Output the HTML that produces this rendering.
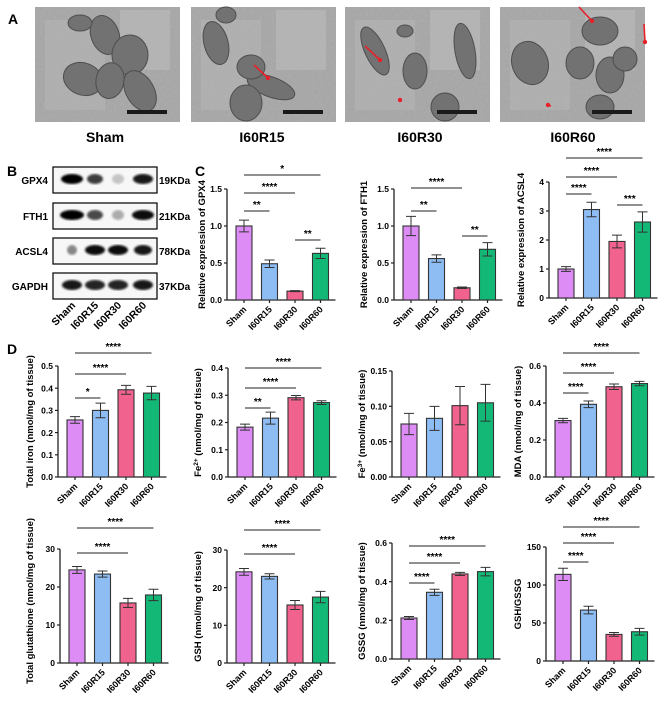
<!DOCTYPE html>
<html><head><meta charset="utf-8">
<style>
html,body{margin:0;padding:0;background:#fff;}
svg{display:block;font-family:"Liberation Sans",Arial,sans-serif;}
</style></head>
<body>
<svg id="fig" width="669" height="705" viewBox="0 0 669 705" xmlns="http://www.w3.org/2000/svg">
<defs>
<filter id="blur2"><feGaussianBlur stdDeviation="1.0"/></filter>
<filter id="noise" x="0" y="0" width="1" height="1"><feTurbulence type="fractalNoise" baseFrequency="0.35" numOctaves="2" seed="3"/><feColorMatrix type="matrix" values="0 0 0 0 0.5  0 0 0 0 0.5  0 0 0 0 0.5  0 0 0 0.35 0"/></filter>
</defs>
<g id="panelA">
<text x="8" y="24" font-size="14" font-weight="bold">A</text>
</g>
<g id="panelB">
<text x="7" y="176" font-size="14" font-weight="bold">B</text>
</g>
<text x="195" y="176" font-size="14" font-weight="bold">C</text>
<text x="7" y="354" font-size="14" font-weight="bold">D</text>
<g id="charts"></g>
</svg>
<script>
// ---- shared categories ----
const categories = ["Sham","I60R15","I60R30","I60R60"];
const colors = ["#dd8cf6","#8dbdf3","#f2628f","#13b877"];

// ---- chart data ----
const gpx4Values = [1.0, 0.49, 0.12, 0.63];
const gpx4Errors = [0.08, 0.05, 0.006, 0.07];
const gpx4Ticks = ["0.0","0.5","1.0","1.5"];
const fth1Values = [1.0, 0.56, 0.165, 0.685];
const fth1Errors = [0.13, 0.05, 0.01, 0.09];
const fth1Ticks = ["0.0","0.5","1.0","1.5"];
const acsl4Values = [1.0, 3.05, 1.95, 2.62];
const acsl4Errors = [0.08, 0.25, 0.22, 0.35];
const acsl4Ticks = ["0","1","2","3","4"];
const ironValues = [0.257, 0.30, 0.393, 0.378];
const ironErrors = [0.015, 0.033, 0.02, 0.03];
const ironTicks = ["0.0","0.1","0.2","0.3","0.4","0.5"];
const fe2Values = [0.183, 0.216, 0.291, 0.273];
const fe2Errors = [0.011, 0.022, 0.008, 0.007];
const fe2Ticks = ["0.0","0.1","0.2","0.3","0.4"];
const fe3Values = [0.075, 0.083, 0.101, 0.105];
const fe3Errors = [0.015, 0.017, 0.027, 0.026];
const fe3Ticks = ["0.00","0.05","0.10","0.15"];
const mdaValues = [0.305, 0.393, 0.488, 0.505];
const mdaErrors = [0.012, 0.018, 0.015, 0.012];
const mdaTicks = ["0.0","0.2","0.4","0.6"];
const tgValues = [24.5, 23.4, 15.8, 17.9];
const tgErrors = [0.9, 0.8, 1.2, 1.5];
const tgTicks = ["0","10","20","30"];
const gshValues = [24.2, 23.0, 15.4, 17.5];
const gshErrors = [0.9, 0.7, 1.2, 1.5];
const gshTicks = ["0","10","20","30"];
const gssgValues = [0.212, 0.345, 0.44, 0.452];
const gssgErrors = [0.008, 0.016, 0.008, 0.022];
const gssgTicks = ["0.0","0.2","0.4","0.6"];
const ratioValues = [114, 67, 35, 38.5];
const ratioErrors = [8, 5, 2.5, 4.5];
const ratioTicks = ["0","50","100","150"];

const NS = "http://www.w3.org/2000/svg";
function el(tag, attrs, parent){
  const e = document.createElementNS(NS, tag);
  for (const k in attrs) e.setAttribute(k, attrs[k]);
  parent.appendChild(e);
  return e;
}
const charts = document.getElementById("charts");
const NARROW = '"Liberation Sans Narrow","Liberation Sans",Arial,sans-serif';

// ---- Panel A: EM images ----
const panelA = document.getElementById("panelA");
const emX = [35, 191, 345, 500];
const emShapes = [
  [[70,35,14,20,-20],[48,90,20,16,20],[95,60,18,20,0],[75,92,14,18,10],[105,105,14,22,-30],[45,20,12,8,0]],
  [[25,45,12,22,-15],[80,100,25,10,20],[60,75,14,12,0],[55,120,16,18,0],[35,10,10,8,0]],
  [[30,55,10,26,-25],[70,80,12,18,0],[60,30,8,6,0],[120,55,10,28,-10],[100,125,14,14,0]],
  [[100,30,18,14,0],[30,70,18,22,-20],[80,70,14,16,0],[110,85,14,18,0],[125,65,12,12,0],[100,125,14,12,0]]
];
const emTitles = ["Sham","I60R15","I60R30","I60R60"];
const emTitleX = [105, 262, 420, 573];
for (let i=0;i<4;i++){
  const g = el("g",{},panelA);
  
  
  el("rect",{x:emX[i],y:7,width:145,height:115,fill:"#a4a4a4"},g);
  el("rect",{x:emX[i]+10,y:20,width:60,height:90,fill:"#b4b4b4",opacity:0.6},g);
  el("rect",{x:emX[i]+85,y:10,width:50,height:60,fill:"#c0c0c0",opacity:0.5},g);
  el("rect",{x:emX[i],y:7,width:145,height:115,filter:"url(#noise)"},g);
  for (const s of emShapes[i]){
    el("ellipse",{cx:emX[i]+s[0],cy:7+s[1]*0.8,rx:s[2],ry:s[3],fill:"#727272",stroke:"#4e4e4e","stroke-width":1,transform:`rotate(${s[4]} ${emX[i]+s[0]} ${7+s[1]*0.8})`},g);
  }
  el("rect",{x:emX[i]+92,y:110,width:40,height:4,fill:"#1a1a1a"},g);
  const t = el("text",{x:emTitleX[i],y:142,"font-size":14,"font-weight":"bold","text-anchor":"middle","font-family":NARROW},panelA);
  t.textContent = emTitles[i];
  
  
}
const arrows = [[260,71,268,78],[371,52,380,60],[408,107,400,100],[585,13,592,21],[650,30,645,42],[557,112,548,105]];
for (const a of arrows){
  const l = el("line",{x1:a[0]-6,y1:a[1]-6,x2:a[2],y2:a[3],stroke:"#e8202a","stroke-width":1.6},panelA);
  
  
  el("circle",{cx:a[2],cy:a[3],r:2.2,fill:"#e8202a"},panelA);
}

// ---- Panel B: western blot ----
const panelB = document.getElementById("panelB");
const blotNames = ["GPX4","FTH1","ACSL4","GAPDH"];
const blotKDa = ["19KDa","21KDa","78KDa","37KDa"];
const blotY = [167, 203, 238, 273];
const laneX = [72, 95, 118, 143];
const bandIntensity = [[1,0.75,0.2,0.9],[1,0.7,0.3,0.95],[0.45,0.95,0.95,0.9],[0.9,0.85,0.85,0.9]];
const bandW = [[11,8,6,10],[12,8,6,11],[5,10,10,9],[10,10,10,10]];
for (let r=0;r<4;r++){
  const g = el("g",{},panelB);
  
  
  el("rect",{x:53,y:blotY[r],width:104,height:26,fill:"#f7f7f7",stroke:"#111","stroke-width":1.3},g);
  for (let l=0;l<4;l++){
    el("ellipse",{cx:laneX[l],cy:blotY[r]+12,rx:bandW[r][l],ry:5,fill:"#000",opacity:bandIntensity[r][l],filter:"url(#blur2)"},g);
  }
  const t = el("text",{x:48,y:blotY[r]+17,"font-size":10,"font-weight":"bold","text-anchor":"end","font-family":NARROW},g);
  t.textContent = blotNames[r];
  const k = el("text",{x:159,y:blotY[r]+17,"font-size":10,"font-weight":"bold","font-family":NARROW},g);
  k.textContent = blotKDa[r];
}
for (let l=0;l<4;l++){
  const t = el("text",{x:laneX[l]+4,y:306,"font-size":10.5,"font-weight":"bold","text-anchor":"end","font-family":NARROW,transform:`rotate(-45 ${laneX[l]+4} 306)`},panelB);
  t.textContent = categories[l];
  
  
}

// ---- bar chart function ----
function drawChart(cfg, values, errors, ticks, sigs){
  const g = el("g",{},charts);
  
  
  const step = 25.5, bw = 16;
  const axisX = cfg.x0 - 9;
  const axisEnd = cfg.x0 + 3*step + bw + 7;
  const maxV = parseFloat(ticks[ticks.length-1]);
  const yScale = v => cfg.y0 - (v/maxV)*(cfg.y0 - cfg.yTop);
  const xCenter = i => cfg.x0 + i*step + bw/2;
  const ya = el("line",{x1:axisX,y1:cfg.yTop,x2:axisX,y2:cfg.y0,stroke:"#222","stroke-width":1.3},g);
  
  
  const xa = el("line",{x1:axisX,y1:cfg.y0,x2:axisEnd,y2:cfg.y0,stroke:"#222","stroke-width":1.3},g);
  
  
  ticks.forEach(t => {
    const y = yScale(parseFloat(t));
    el("line",{x1:axisX-3,y1:y,x2:axisX,y2:y,stroke:"#222","stroke-width":1.2},g);
    const tl = el("text",{x:axisX-5,y:y+3.2,"font-size":8.5,"font-weight":"bold","text-anchor":"end"},g);
    tl.textContent = t;
    
    
  });
  values.forEach((v,i) => {
    const y = yScale(v);
    const b = el("rect",{x:cfg.x0+i*step,y:y,width:bw,height:cfg.y0-y,fill:colors[i],stroke:"#333","stroke-width":1.1},g);
    
    
    const cx = xCenter(i);
    const yt = yScale(v+errors[i]), yb = yScale(v-errors[i]);
    const eb = el("path",{d:`M${cx},${yt}V${yb}M${cx-5},${yt}H${cx+5}M${cx-5},${yb}H${cx+5}`,stroke:"#333","stroke-width":1,fill:"none"},g);
    
    
    el("line",{x1:cx,y1:cfg.y0,x2:cx,y2:cfg.y0+3,stroke:"#222","stroke-width":1.2},g);
    const xl = el("text",{x:cx+3,y:cfg.y0+10,"font-size":9,"font-weight":"bold","text-anchor":"end",transform:`rotate(-45 ${cx+3} ${cfg.y0+10})`},g);
    xl.textContent = categories[i];
    
    
  });
  const ly = (cfg.yTop + cfg.y0)/2 + (cfg.labelShift||0);
  const lx = cfg.labelX;
  const yl = el("text",{x:lx,y:ly,"font-size":9.5,"font-weight":"bold","text-anchor":"middle",transform:`rotate(-90 ${lx} ${ly})`},g);
  
  
  if (cfg.sup){
    const a = el("tspan",{},yl); a.textContent = "Fe";
    const s = el("tspan",{"baseline-shift":"super","font-size":6.5},yl); s.textContent = cfg.sup;
    const c = el("tspan",{},yl); c.textContent = " (nmol/mg of tissue)";
  } else yl.textContent = cfg.label;
  sigs.forEach(s => {
    const x1 = xCenter(s[0]), x2 = xCenter(s[1]);
    const sl = el("line",{x1:x1,y1:s[2],x2:x2,y2:s[2],stroke:"#222","stroke-width":1.1},g);
    
    
    const st = el("text",{x:(x1+x2)/2,y:s[2]-3,"font-size":10,"font-weight":"bold","text-anchor":"middle"},g);
    st.textContent = s[3];
    
    
  });
}

drawChart({name:"chart-gpx4",x0:236,y0:300,yTop:189,labelX:205,label:"Relative expression of GPX4"},gpx4Values,gpx4Errors,gpx4Ticks,
  [[0,3,175,"*"],[0,2,193,"****"],[0,1,211,"**"],[2,3,240,"**"]]);
drawChart({name:"chart-fth1",x0:403,y0:300,yTop:189,labelX:367,label:"Relative expression of FTH1"},fth1Values,fth1Errors,fth1Ticks,
  [[0,2,188,"****"],[0,1,211,"**"],[2,3,236,"**"]]);
drawChart({name:"chart-acsl4",x0:558,y0:298,yTop:182,labelX:524,label:"Relative expression of ACSL4"},acsl4Values,acsl4Errors,acsl4Ticks,
  [[0,3,158,"****"],[0,2,177,"****"],[0,1,194,"****"],[2,3,205,"***"]]);

drawChart({name:"chart-total-iron",x0:67,y0:477,yTop:366,labelX:33,label:"Total iron (nmol/mg of tissue)"},ironValues,ironErrors,ironTicks,
  [[0,3,353,"****"],[0,2,374,"****"],[0,1,398,"*"]]);
drawChart({name:"chart-fe2",x0:237,y0:477,yTop:368,labelX:201,sup:"2+"},fe2Values,fe2Errors,fe2Ticks,
  [[0,3,368,"****"],[0,2,388,"****"],[0,1,408,"**"]]);
drawChart({name:"chart-fe3",x0:401,y0:477,yTop:371,labelX:365,sup:"3+"},fe3Values,fe3Errors,fe3Ticks,[]);
drawChart({name:"chart-mda",x0:555,y0:477,yTop:366,labelX:521,label:"MDA (nmol/mg of tissue)"},mdaValues,mdaErrors,mdaTicks,
  [[0,3,353,"****"],[0,2,373,"****"],[0,1,393,"****"]]);

drawChart({name:"chart-total-glutathione",x0:69,y0:663,yTop:549,labelX:33,label:"Total glutathione (nmol/mg of tissue)",labelShift:-5},tgValues,tgErrors,tgTicks,
  [[0,3,528,"****"],[0,2,553,"****"]]);
drawChart({name:"chart-gsh",x0:236,y0:663,yTop:550,labelX:201,label:"GSH (nmol/mg of tissue)"},gshValues,gshErrors,gshTicks,
  [[0,3,530,"****"],[0,2,554,"****"]]);
drawChart({name:"chart-gssg",x0:401,y0:659,yTop:543,labelX:365,label:"GSSG (nmol/mg of tissue)"},gssgValues,gssgErrors,gssgTicks,
  [[0,3,546,"****"],[0,2,563,"****"],[0,1,583,"****"]]);
drawChart({name:"chart-gsh-gssg",x0:555,y0:661,yTop:547,labelX:521,label:"GSH/GSSG"},ratioValues,ratioErrors,ratioTicks,
  [[0,3,527,"****"],[0,2,543,"****"],[0,1,562,"****"]]);
</script>
</body></html>
